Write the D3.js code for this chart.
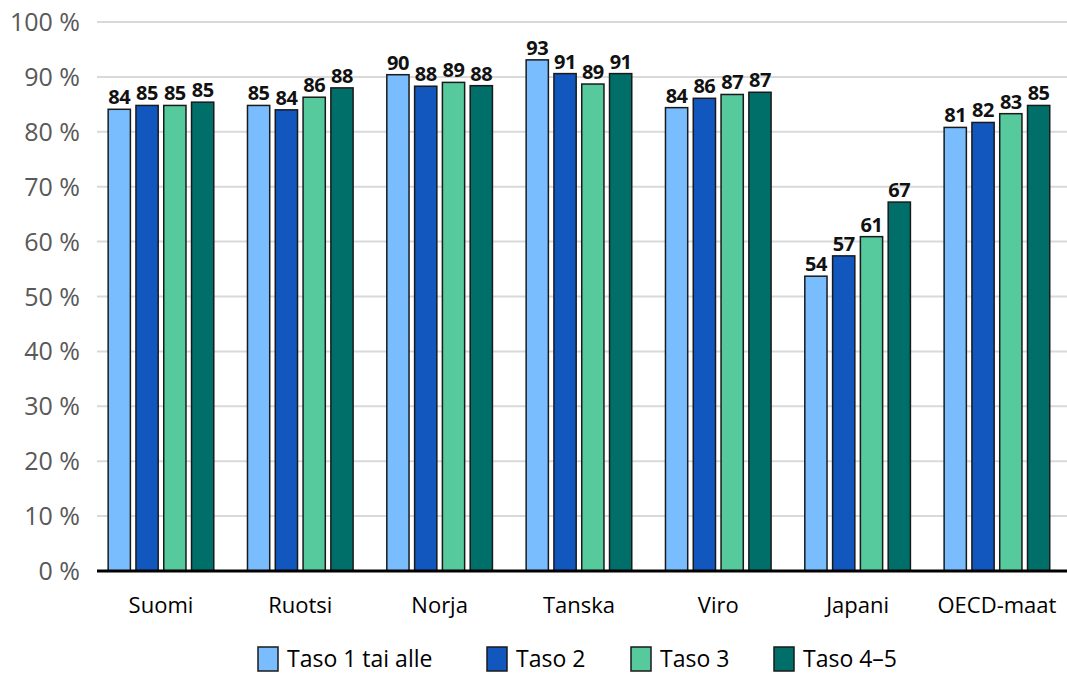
<!DOCTYPE html>
<html><head><meta charset="utf-8">
<script src="https://cdn.jsdelivr.net/npm/d3@7"></script>
<style>body{margin:0;background:#fff}svg{display:block}</style>
</head><body>
<svg id="c" width="1067" height="673"></svg>
<script>
const categories = ["Suomi","Ruotsi","Norja","Tanska","Viro","Japani","OECD-maat"];
const seriesNames = ["Taso 1 tai alle","Taso 2","Taso 3","Taso 4\u20135"];
const taso1 = [84.1, 84.8, 90.4, 93.1, 84.4, 53.7, 80.8];
const taso2 = [84.8, 84.0, 88.3, 90.6, 86.1, 57.4, 81.7];
const taso3 = [84.8, 86.3, 89.0, 88.7, 86.8, 60.9, 83.3];
const taso45 = [85.4, 88.0, 88.4, 90.6, 87.2, 67.2, 84.8];
const yTicks = [0,10,20,30,40,50,60,70,80,90,100];
const colors = ["#79BDFF","#1257BE","#56C99D","#006F6A"];

const series = [taso1, taso2, taso3, taso45];
const svg = d3.select("#c");
const font = "'Open Sans', sans-serif";

const x0 = d3.scaleBand().domain(categories).range([91.3, 1066.6]).paddingInner(0.222).paddingOuter(0.111);
const x1 = d3.scaleBand().domain(d3.range(4)).range([0, x0.bandwidth()]).paddingInner(0.2).paddingOuter(0.05);
const y = d3.scaleLinear().domain([0,100]).range([571, 22]);

// gridlines
svg.append("g").selectAll("line").data(yTicks.filter(d=>d>0)).join("line")
  .attr("x1", 97).attr("x2", 1067)
  .attr("y1", d=>y(d)).attr("y2", d=>y(d))
  .attr("stroke", "#d9d9d9").attr("stroke-width", 2);

// y tick labels
svg.append("g").selectAll("text").data(yTicks).join("text")
  .attr("x", 80).attr("y", d=>y(d)).attr("dy", "0.36em")
  .attr("text-anchor", "end")
  .attr("font-family", font).attr("font-size", 25).attr("fill", "#595959")
  .text(d=>d + " %");

// bars
const groups = svg.append("g").selectAll("g").data(categories).join("g")
  .attr("transform", c=>`translate(${x0(c)},0)`);
groups.selectAll("rect").data((c,i)=>series.map((s,k)=>({k, v:s[i]}))).join("rect")
  .attr("x", d=>x1(d.k)).attr("width", x1.bandwidth())
  .attr("y", d=>y(d.v)).attr("height", d=>y(0)-y(d.v))
  .attr("fill", d=>colors[d.k]).attr("stroke", "#1a1a1a").attr("stroke-width", 1.5);
groups.selectAll("text").data((c,i)=>series.map((s,k)=>({k, v:s[i]}))).join("text")
  .attr("x", d=>x1(d.k) + x1.bandwidth()/2).attr("y", d=>y(d.v) - 5)
  .attr("text-anchor", "middle")
  .attr("font-family", font).attr("font-weight", "bold").attr("font-size", 20).attr("fill", "#111")
  .attr("letter-spacing", -0.5)
  .text(d=>Math.round(d.v));

// baseline
svg.append("line").attr("x1", 97).attr("x2", 1067).attr("y1", y(0)).attr("y2", y(0))
  .attr("stroke", "#000").attr("stroke-width", 3);

// category labels
svg.append("g").selectAll("text").data(categories).join("text")
  .attr("x", c=>x0(c) + x0.bandwidth()/2).attr("y", 613)
  .attr("text-anchor", "middle")
  .attr("font-family", font).attr("font-size", 22).attr("fill", "#000")
  .text(c=>c);

// legend
const legendX = [258, 487, 631, 774];
const lg = svg.append("g").selectAll("g").data(seriesNames).join("g")
  .attr("transform", (d,i)=>`translate(${legendX[i]},647)`);
lg.append("rect").attr("width", 20).attr("height", 24)
  .attr("fill", (d,i)=>colors[i]).attr("stroke", "#1a1a1a").attr("stroke-width", 1.5);
lg.append("text").attr("x", 29).attr("y", 20)
  .attr("font-family", font).attr("font-size", 23).attr("fill", "#000")
  .text(d=>d);
</script>
</body></html>
